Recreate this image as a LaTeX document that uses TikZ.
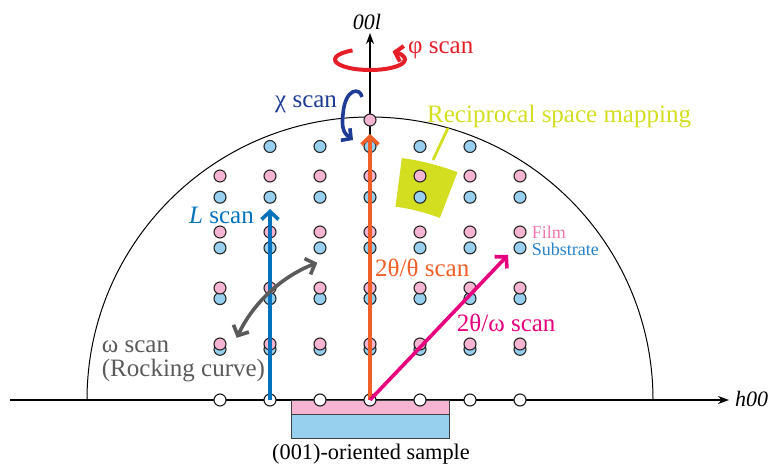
\documentclass[tikz,border=0pt]{standalone}
\usepackage{fontspec}
\setmainfont{Liberation Serif}
\usetikzlibrary{arrows.meta,calc}
\definecolor{dotpink}{RGB}{245,180,210}
\definecolor{dotblue}{RGB}{150,208,238}
\definecolor{filmtxt}{RGB}{238,120,175}
\definecolor{subtxt}{RGB}{40,130,200}
\definecolor{lblue}{RGB}{0,114,188}
\definecolor{orng}{RGB}{240,95,40}
\definecolor{mgnt}{RGB}{230,0,126}
\definecolor{gry}{RGB}{90,90,90}
\definecolor{chiblue}{RGB}{30,60,150}
\definecolor{phired}{RGB}{230,30,40}
\definecolor{rsm}{RGB}{212,222,33}
\begin{document}
\begin{tikzpicture}[x=1pt,y=1pt,
  dotb/.style={circle,draw=black!85,line width=1.1pt,minimum size=12pt,inner sep=0pt,fill=dotblue},
  dotp/.style={circle,draw=black!85,line width=1.1pt,minimum size=12pt,inner sep=0pt,fill=dotpink},
  doto/.style={circle,draw=black!90,line width=1.1pt,minimum size=12pt,inner sep=0pt,fill=white},
  axis/.style={line width=1.1pt,-{Stealth[length=11pt,width=8pt]}},
  scanarrow/.style={line width=3.6pt,-{Straight Barb[length=8pt,width=17pt]}},
  lbl/.style={inner sep=0pt,anchor=base west,font=\fontsize{25}{29}\selectfont},
  small/.style={inner sep=0pt,anchor=base west,font=\fontsize{18}{22}\selectfont}]
\useasboundingbox (0,0) rectangle (770,464);
\coordinate (O) at (370,64);
% semicircle
\draw[line width=1pt] ($(O)+(180:283)$) arc[start angle=180,end angle=0,radius=283];
% axes
\coordinate (hstart) at (10,64);
\coordinate (hend) at (729,64);
\coordinate (vend) at (370,431);
\draw[axis] (hstart) -- (hend);
\draw[axis] (O) -- (vend);
\node[inner sep=0pt,anchor=base west,font=\fontsize{22}{26}\selectfont\itshape] (h00) at (735,58) {h00};
\node[inner sep=0pt,anchor=base,font=\fontsize{22}{26}\selectfont\itshape] (l00) at (367,434) {00l};
% sample
\draw[draw=black!75,line width=0.8pt,fill=dotblue] (291.7,26) rectangle (449,50);
\draw[draw=black!75,line width=0.8pt,fill=dotpink] (291.7,50) rectangle (449,64);
\node[inner sep=0pt,anchor=base,font=\fontsize{22.3}{26}\selectfont] (sample) at (371,5) {(001)-oriented sample};
% reciprocal space mapping region
\fill[rsm] ($(O)+(82.5:244)$) arc[start angle=82.5,end angle=69,radius=244]
  -- ($(O)+(69:195)$) arc[start angle=69,end angle=82.5,radius=195] -- cycle;
\coordinate (rsmA) at (433,304);
\coordinate (rsmB) at (448,336);
\draw[rsm,line width=2.8pt] (rsmA) -- (rsmB);
\node[lbl,text=rsm] (rsmlbl) at (427,341) {Reciprocal space mapping};
% lattice points: substrate
\foreach \n in {1,...,4}{
  \foreach \k in {-3,...,3}{
    \node[dotb] (s\n\k) at ({370+50*\k},{64+50.7*\n}) {};
  }
}
\foreach \k in {-2,...,2}{
  \node[dotb] (s5\k) at ({370+50*\k},{64+50.7*5}) {};
}
% film
\foreach \n in {1,...,4}{
  \foreach \k in {-3,...,3}{
    \node[dotp] (f\n\k) at ({370+50*\k},{64+56*\n}) {};
  }
}
\node[dotp] (f5) at (370,344) {};
% baseline
\foreach \k [count=\i] in {-3,...,3}{
  \node[doto] (o\i) at ({370+50*\k},64) {};
}
% scans
\coordinate (Ltip) at (270,255);
\draw[scanarrow,lblue] (o2.center) -- (Ltip);
\coordinate (Ttip) at (370,330);
\draw[scanarrow,orng] (o4.center) -- (Ttip);
\coordinate (Wtip) at (508,209);
\draw[scanarrow,mgnt] (o4.center) -- (Wtip);
\coordinate (ws) at ($(O)+(155:147)$);
\draw[line width=3.6pt,gry,{Straight Barb[length=8pt,width=17pt]}-{Straight Barb[length=8pt,width=17pt]}] (ws) arc[start angle=155,end angle=111,radius=147];
% chi
\coordinate (chiS) at (362,367);
\coordinate (chiE) at (353,324);
\draw[line width=3.6pt,chiblue,-{Straight Barb[length=7pt,width=15pt]}] (chiS) .. controls (360,377) and (345,376) .. (343,350) .. controls (341,334) and (345,330) .. (chiE);
% phi
\coordinate (phiC) at (370,404.5);
\coordinate (phiS) at ($(phiC)+(120:35 and 10.5)$);
\draw[line width=4pt,phired,-{Straight Barb[length=7pt,width=16pt]}] (phiS) arc[start angle=120,end angle=410,x radius=35,y radius=10.5];
% labels
\node[lbl,text=phired] (philbl) at (408,410.7) {φ scan};
\node[lbl,text=chiblue] (chilbl) at (275,356) {χ scan};
\node[lbl,text=lblue] (llbl) at (189,241) {\textit{L} scan};
\node[lbl,text=orng] (ttlbl) at (375,188) {2θ/θ scan};
\node[lbl,text=mgnt] (twlbl) at (456.7,132.5) {2θ/ω scan};
\node[small,text=filmtxt] (film) at (531.7,226) {Film};
\node[small,text=subtxt] (subs) at (531.7,208.5) {Substrate};
\node[lbl,text=gry] (wlbl) at (101.7,111.5) {ω scan};
\node[lbl,text=gry] (rclbl) at (101.7,88) {(Rocking curve)};
\end{tikzpicture}
\end{document}
